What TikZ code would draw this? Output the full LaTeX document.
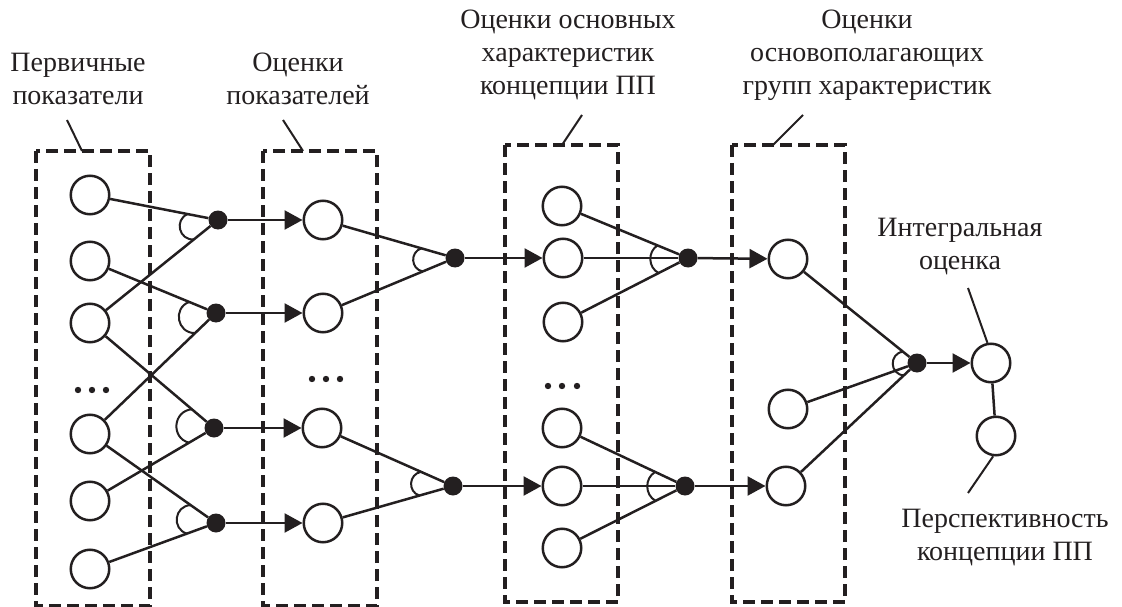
\documentclass[tikz,border=0pt]{standalone}
\usepackage{fontspec}
\setmainfont{Liberation Serif}
\usepackage{tikz}
\usetikzlibrary{arrows.meta, calc}
\definecolor{ink}{RGB}{35,31,32}
\tikzset{
	krug/.style={circle,draw=ink,line width=2.5pt,minimum size=38.5pt,inner sep=0pt},
	uzel/.style={circle,fill=ink,minimum size=19pt,inner sep=0pt},
	blok/.style={draw=ink,line width=3.5pt,dash pattern=on 12pt off 6pt},
	svyaz/.style={draw=ink,line width=2.5pt},
	strelka/.style={svyaz,-{Triangle[length=18pt,width=19pt]}},
	podpis/.style={text=ink,align=center,font=\fontsize{28}{33}\selectfont},
	vynoska/.style={draw=ink,line width=2pt},
}
\newcommand{\ugol}[5]{\draw[draw=ink,line width=2pt] ($(#1)!#4pt!(#2)$) to[#5] ($(#1)!#4pt!(#3)$);}

\begin{document}
\begin{tikzpicture}[x=1pt,y=1pt]
	\useasboundingbox (0,0) rectangle (1122,-607);
	
	\draw[blok] (36,-151) rectangle (150,-606);
	\draw[blok] (263,-151) rectangle (377,-606);
	\draw[blok] (505,-145) rectangle (618,-602);
	\draw[blok] (732,-145) rectangle (845,-602);
	
	\node[podpis] (lab1) at (78,-79)   {Первичные\\показатели};
	\node[podpis] (lab2) at (298,-79)  {Оценки\\показателей};
	\node[podpis] (lab3) at (568,-55)  {Оценки основных\\характеристик\\концепции ПП};
	\node[podpis] (lab4) at (867,-55)  {Оценки\\основополагающих\\групп характеристик};
	\node[podpis] (lab5) at (960,-247) {Интегральная\\оценка};
	\node[podpis] (lab6) at (1005,-538) {Перспективность\\концепции ПП};
	
	\coordinate (v1) at (67,-120);
	\coordinate (t1) at (82,-151);
	\coordinate (v2) at (283,-120);
	\coordinate (t2) at (303,-151);
	\coordinate (v3) at (582,-115);
	\coordinate (t3) at (562,-145);
	\coordinate (v4) at (803,-115);
	\coordinate (t4) at (773,-145);
	\coordinate (v5) at (968,-288);
	\coordinate (v6) at (968,-493);
	
	\node[krug] (a1) at (90,-195) {};
	\node[krug] (a2) at (90,-261) {};
	\node[krug] (a3) at (90,-323) {};
	\node[krug] (a4) at (90,-434) {};
	\node[krug] (a5) at (90,-501) {};
	\node[krug] (a6) at (90,-569) {};
	
	\node[uzel] (J1) at (218,-220) {};
	\node[uzel] (J2) at (216,-313) {};
	\node[uzel] (J3) at (214,-428) {};
	\node[uzel] (J4) at (216,-523) {};
	
	\node[krug] (b1) at (323,-220) {};
	\node[krug] (b2) at (323,-313) {};
	\node[krug] (b3) at (322,-428) {};
	\node[krug] (b4) at (323,-523) {};
	
	\node[uzel] (K1) at (455,-258) {};
	\node[uzel] (K2) at (453,-486) {};
	
	\node[krug] (c1) at (562,-206) {};
	\node[krug] (c2) at (563,-258) {};
	\node[krug] (c3) at (563,-322) {};
	\node[krug] (c4) at (562,-428) {};
	\node[krug] (c5) at (562,-486) {};
	\node[krug] (c6) at (562,-548) {};
	
	\node[uzel] (L1) at (688,-258) {};
	\node[uzel] (L2) at (685,-486) {};
	
	\node[krug] (d1) at (788,-259) {};
	\node[krug] (d2) at (788,-409) {};
	\node[krug] (d3) at (786,-486) {};
	
	\node[uzel] (M) at (917,-363) {};
	
	\node[krug] (e1) at (991,-363) {};
	\node[krug] (e2) at (996,-436) {};
	
	\foreach \x in {78,92,106} \fill[ink] (\x,-390) circle (3.2pt);
	\foreach \x in {312,326,340} \fill[ink] (\x,-379) circle (3.2pt);
	\foreach \x in {548,562,577} \fill[ink] (\x,-386) circle (3.2pt);
	
	\draw[vynoska] (v1)--(t1);
	\draw[vynoska] (v2)--(t2);
	\draw[vynoska] (v3)--(t3);
	\draw[vynoska] (v4)--(t4);
	\draw[vynoska] (v5)--(e1.100);
	\draw[vynoska] (e2.-98)--(v6);
	
	\draw[svyaz] (a1)--(J1);
	\draw[svyaz] (a3)--(J1);
	\draw[svyaz] (a2)--(J2);
	\draw[svyaz] (a4)--(J2);
	\draw[svyaz] (a3)--(J3);
	\draw[svyaz] (a5)--(J3);
	\draw[svyaz] (a4)--(J4);
	\draw[svyaz] (a6)--(J4);
	
	\draw[strelka] (J1)--(b1);
	\draw[strelka] (J2)--(b2);
	\draw[strelka] (J3)--(b3);
	\draw[strelka] (J4)--(b4);
	
	\draw[svyaz] (b1)--(K1);
	\draw[svyaz] (b2)--(K1);
	\draw[svyaz] (b3)--(K2);
	\draw[svyaz] (b4)--(K2);
	
	\draw[strelka] (K1)--(c2);
	\draw[strelka] (K2)--(c5);
	
	\draw[svyaz] (c1)--(L1);
	\draw[svyaz] (c2)--(L1);
	\draw[svyaz] (c3)--(L1);
	\draw[svyaz] (c4)--(L2);
	\draw[svyaz] (c5)--(L2);
	\draw[svyaz] (c6)--(L2);
	
	\draw[strelka] (L1)--(d1);
	\draw[strelka] (L2)--(d3);
	
	\draw[svyaz] (d1)--(M);
	\draw[svyaz] (d2)--(M);
	\draw[svyaz] (d3)--(M);
	
	\draw[strelka] (M)--(e1);
	\draw[svyaz] (e1)--(e2);
	
	\ugol{J1}{a1}{a3}{31}{bend right=80,looseness=1.45}
	\ugol{J2}{a2}{a4}{29}{bend right=80,looseness=1.45}
	\ugol{J3}{a3}{a5}{29}{bend right=80,looseness=1.45}
	\ugol{J4}{a4}{a6}{31}{bend right=80,looseness=1.45}
	\ugol{K1}{b1}{b2}{35}{bend right=75,looseness=1.35}
	\ugol{K2}{b3}{b4}{35}{bend right=75,looseness=1.35}
	\ugol{L1}{c1}{c3}{33}{bend right=60,looseness=1.1}
	\ugol{L2}{c4}{c6}{33}{bend right=60,looseness=1.1}
	\ugol{M}{d1}{d3}{18}{bend right=85,looseness=1.55}
\end{tikzpicture}
\end{document}
